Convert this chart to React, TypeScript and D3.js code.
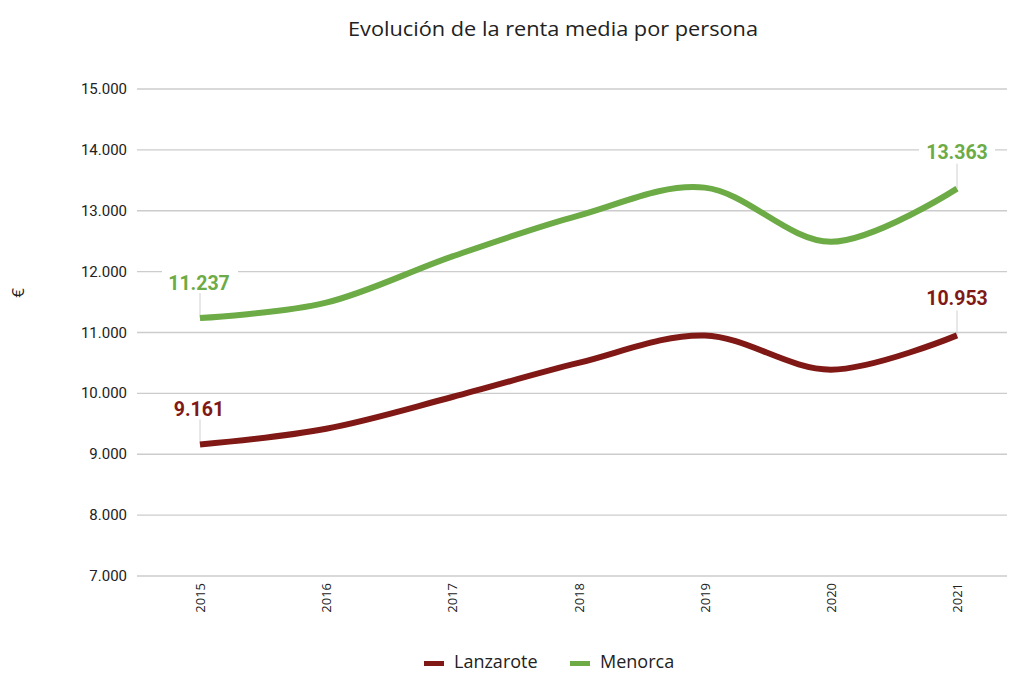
import React from "react";
import * as d3 from "d3";

const years = ["2015", "2016", "2017", "2018", "2019", "2020", "2021"];
const lanzarote = [9161, 9420, 9940, 10500, 10950, 10390, 10953];
const menorca = [11237, 11490, 12250, 12920, 13380, 12490, 13363];
const yTicks = [7000, 8000, 9000, 10000, 11000, 12000, 13000, 14000, 15000];
const seriesNames = ["Lanzarote", "Menorca"];
const seriesColors = ["#801916", "#6cab45"];

const fmt = (v: number) => {
  const s = String(Math.round(v));
  return s.replace(/\B(?=(\d{3})+(?!\d))/g, ".");
};

export default function App() {
  const W = 1009, H = 673;
  const x = d3.scalePoint<string>().domain(years).range([200, 957]);
  const y = d3.scaleLinear().domain([7000, 15000]).range([576, 89]);
  const line = d3
    .line<number>()
    .x((_, i) => x(years[i]) as number)
    .y((d) => y(d))
    .curve(d3.curveCardinal.tension(0));
  const series = [lanzarote, menorca];

  return (
    <svg width={W} height={H} style={{ position: "absolute", left: 0, top: 0, background: "#fff" }}>
      <rect width={W} height={H} fill="#fff" />
      <text x={553} y={36} textAnchor="middle" fontFamily="'Open Sans', sans-serif" fontSize={20} fill="#222" textLength={410} lengthAdjust="spacingAndGlyphs">
        Evolución de la renta media por persona
      </text>
      {yTicks.map((t) => (
        <g key={t}>
          <line x1={137} x2={1007} y1={y(t)} y2={y(t)} stroke="#cccccc" strokeWidth={1.3} />
          <text x={127} y={y(t) + 5} textAnchor="end" fontFamily="Roboto, sans-serif" fontSize={15} fill="#222">
            {fmt(t)}
          </text>
        </g>
      ))}
      <text transform="translate(24,293) rotate(-90)" textAnchor="middle" fontFamily="'Open Sans', sans-serif" fontSize={17} fill="#222">
        €
      </text>
      {years.map((yr) => (
        <text key={yr} transform={`translate(${(x(yr) as number) + 5},583) rotate(-90)`} textAnchor="end" fontFamily="'Open Sans', sans-serif" fontSize={13} fill="#222">
          {yr}
        </text>
      ))}
      {series.map((s, si) => {
        const first = s[0];
        const last = s[s.length - 1];
        const x0 = x(years[0]) as number;
        const x1 = x(years[years.length - 1]) as number;
        return (
          <g key={si}>
            <line x1={x0} x2={x0} y1={y(first) - 25} y2={y(first)} stroke="#d0d0d0" strokeWidth={1} />
            <line x1={x1} x2={x1} y1={y(last) - 25} y2={y(last)} stroke="#d0d0d0" strokeWidth={1} />
            <path d={line(s) || ""} fill="none" stroke={seriesColors[si]} strokeWidth={6} strokeLinecap="butt" />
            <rect x={x0 - 38} y={y(first) - 50} width={76} height={24} fill="#fff" />
            <text x={x0 - 1} y={y(first) - 28} textAnchor="middle" fontFamily="Roboto, sans-serif" fontWeight="bold" fontSize={19.5} fill={seriesColors[si]}>
              {fmt(first)}
            </text>
            <rect x={x1 - 38} y={y(last) - 52} width={76} height={24} fill="#fff" />
            <text x={x1} y={y(last) - 30} textAnchor="middle" fontFamily="Roboto, sans-serif" fontWeight="bold" fontSize={19.5} fill={seriesColors[si]}>
              {fmt(last)}
            </text>
          </g>
        );
      })}
      {seriesNames.map((n, i) => {
        const lx = i === 0 ? 424 : 570;
        return (
          <g key={n}>
            <rect x={lx} y={661} width={20} height={5} fill={seriesColors[i]} />
            <text x={lx + 30} y={668} fontFamily="'Open Sans', sans-serif" fontSize={18} fill="#222">
              {n}
            </text>
          </g>
        );
      })}
    </svg>
  );
}
